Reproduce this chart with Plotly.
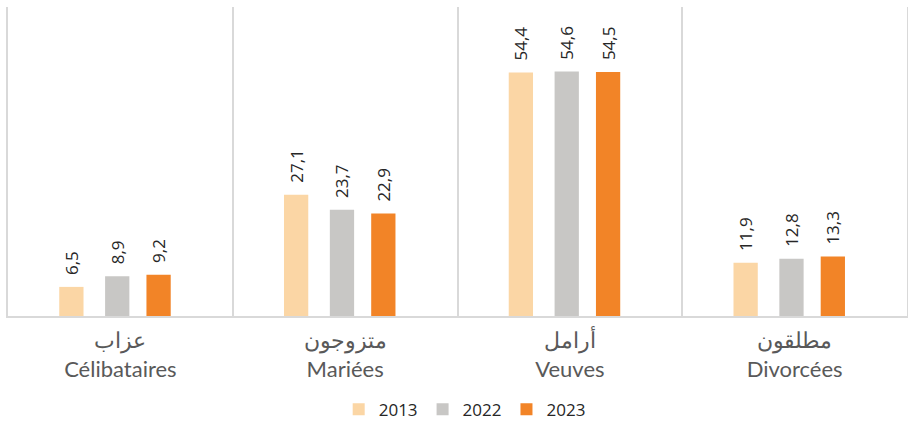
import plotly.graph_objects as go

categories_ar = ["عزاب", "متزوجون", "أرامل", "مطلقون"]
categories_fr = ["Célibataires", "Mariées", "Veuves", "Divorcées"]
series_names = ["2013", "2022", "2023"]
values_2013 = [6.5, 27.1, 54.4, 11.9]
values_2022 = [8.9, 23.7, 54.6, 12.8]
values_2023 = [9.2, 22.9, 54.5, 13.3]
colors = ["#FBD6A5", "#C8C7C5", "#F28427"]
bar_offsets = [-0.272, -0.068, 0.116]
bar_width = 0.108

series_values = [values_2013, values_2022, values_2023]
cats = categories_fr

fig = go.Figure()
for name, vals, col, off in zip(series_names, series_values, colors, bar_offsets):
    fig.add_trace(go.Bar(
        x=cats, y=vals, name=name,
        offset=off, width=bar_width,
        marker=dict(color=col, line=dict(width=0)),
        text=["\u00a0\u00a0" + f"{v:.1f}".replace(".", ",") for v in vals],
        textposition="outside", textangle=-90, constraintext="none",
        textfont=dict(family="Open Sans", size=17, color="#262626"),
        cliponaxis=False,
    ))

ticktext = [f"{a}<br>{f}" for a, f in zip(categories_ar, categories_fr)]

fig.update_layout(
    width=908, height=421,
    margin=dict(l=8, r=1, t=7, b=105, autoexpand=False),
    plot_bgcolor="white", paper_bgcolor="white",
    barmode="overlay",
    showlegend=True,
    legend=dict(orientation="h", x=0.508, xanchor="center", y=-0.245, yanchor="top",
                font=dict(family="Open Sans", size=17, color="#262626"),
                itemwidth=30, tracegroupgap=0),
    xaxis=dict(
        tickmode="array", tickvals=cats, ticktext=ticktext,
        tickson="boundaries", ticks="", showgrid=True, gridcolor="#D9D9D9", gridwidth=2,
        showline=True, linecolor="#D9D9D9", linewidth=2,
        tickfont=dict(family="Lato", size=22, color="#595959"),
        ticklabelstandoff=4,
        mirror=False, automargin=False,
    ),
    yaxis=dict(range=[0, 69], showgrid=False, zeroline=False, showticklabels=False,
               ticks="", showline=True, mirror=True, linecolor="#D9D9D9", linewidth=2,
               automargin=False),
)

fig.write_html("out.html", config={"displayModeBar": False},
               post_script="document.body.style.margin='0';")
